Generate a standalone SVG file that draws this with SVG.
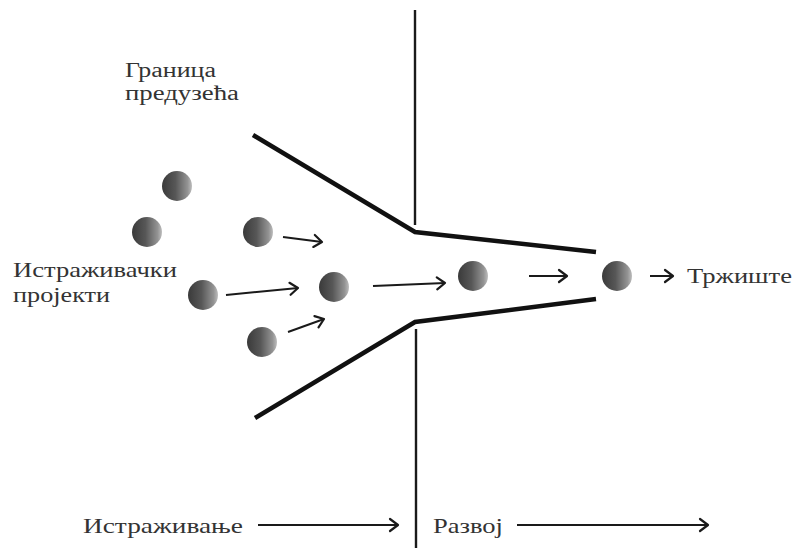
<svg xmlns="http://www.w3.org/2000/svg" width="793" height="548" viewBox="0 0 793 548">
<defs>
<linearGradient id="ball" x1="0" y1="0" x2="1" y2="0">
<stop offset="0" stop-color="#3a3a3a"/>
<stop offset="0.45" stop-color="#575757"/>
<stop offset="0.85" stop-color="#939393"/>
<stop offset="1" stop-color="#bdbdbd"/>
</linearGradient>
<marker id="ah" markerUnits="userSpaceOnUse" markerWidth="14" markerHeight="16" refX="10" refY="7" orient="auto" viewBox="0 0 14 14">
<path d="M2,1 L10,7 L2,13" fill="none" stroke="#1a1a1a" stroke-width="2.2" stroke-linecap="round" stroke-linejoin="round"/>
</marker>
</defs>
<style>
.t{font-family:"Liberation Serif","Times New Roman",serif;font-size:22px;fill:#333}
.s{font-size:20px}
.wall{fill:none;stroke:#111;stroke-width:4.5;stroke-linejoin:miter}
.div{stroke:#1a1a1a;stroke-width:2.4}
.ar{stroke:#1a1a1a;stroke-width:2;fill:none;marker-end:url(#ah)}
.b{fill:url(#ball)}
</style>
<rect width="793" height="548" fill="#fff"/>
<g id="divider">
<line class="div" x1="415" y1="10" x2="415" y2="225"/>
<line class="div" x1="416" y1="329" x2="416" y2="548"/>
</g>
<g id="funnel">
<polyline class="wall" points="253,135 415,232 596,252"/>
<polyline class="wall" points="255,418 415,322 596,299"/>
</g>
<g id="balls">
<circle id="p1" class="b" cx="177" cy="186" r="15"/>
<circle id="p2" class="b" cx="147" cy="232" r="15"/>
<circle id="p3" class="b" cx="258" cy="232" r="15"/>
<circle id="p4" class="b" cx="203" cy="295" r="15"/>
<circle id="p5" class="b" cx="334" cy="287" r="15"/>
<circle id="p6" class="b" cx="262" cy="342" r="15"/>
<circle id="p7" class="b" cx="473" cy="276" r="15"/>
<circle id="p8" class="b" cx="617" cy="276" r="15"/>
</g>
<g id="connectors">
<line class="ar" x1="283" y1="237" x2="322" y2="242"/>
<line class="ar" x1="226" y1="295" x2="298" y2="288"/>
<line class="ar" x1="288" y1="332" x2="324" y2="319"/>
<line class="ar" x1="373" y1="286" x2="445" y2="283"/>
<line class="ar" x1="529" y1="276" x2="567" y2="276"/>
<line class="ar" x1="650" y1="276" x2="673" y2="276"/>
<line class="ar" x1="258" y1="525" x2="398" y2="525"/>
<line class="ar" x1="517" y1="525" x2="708" y2="525"/>
</g>
<g id="labels">
<text class="t s" x="125" y="77" textLength="91" lengthAdjust="spacingAndGlyphs">Граница</text>
<text class="t s" x="125" y="99.5" textLength="114" lengthAdjust="spacingAndGlyphs">предузећа</text>
<text class="t" x="13" y="277" textLength="164" lengthAdjust="spacingAndGlyphs">Истраживачки</text>
<text class="t" x="13" y="302" textLength="97" lengthAdjust="spacingAndGlyphs">пројекти</text>
<text class="t" x="687" y="283" textLength="105" lengthAdjust="spacingAndGlyphs">Тржиште</text>
<text class="t" x="83" y="533" textLength="160" lengthAdjust="spacingAndGlyphs">Истраживање</text>
<text class="t" x="433" y="533" textLength="70" lengthAdjust="spacingAndGlyphs">Развој</text>
</g>
</svg>
